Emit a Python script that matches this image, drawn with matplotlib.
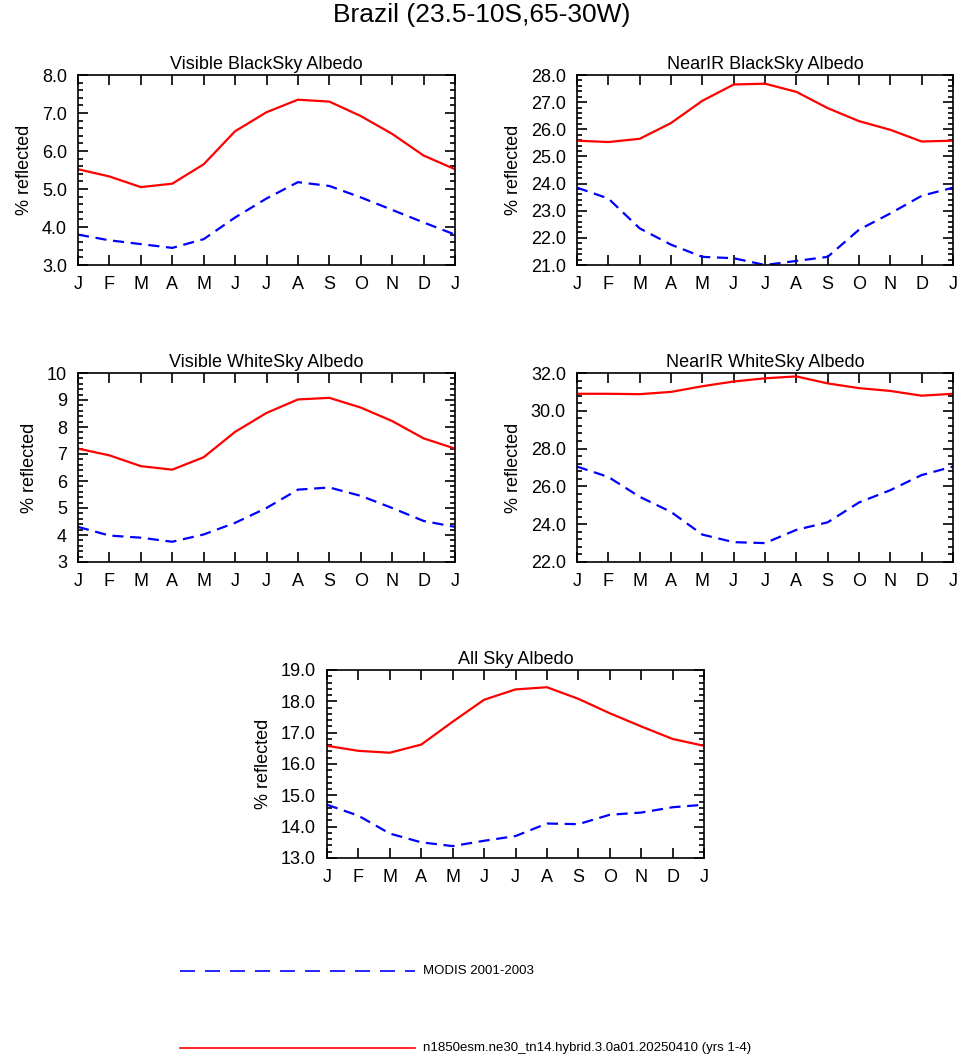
import numpy as np
import matplotlib
matplotlib.use('Agg')
import matplotlib.pyplot as plt
from matplotlib.ticker import AutoMinorLocator, FormatStrFormatter
from matplotlib.lines import Line2D

plt.rcParams['font.family'] = ['Liberation Sans', 'DejaVu Sans']

months = ['J', 'F', 'M', 'A', 'M', 'J', 'J', 'A', 'S', 'O', 'N', 'D', 'J']

vis_black_model = [5.52, 5.33, 5.05, 5.14, 5.65, 6.52, 7.02, 7.35, 7.30, 6.92, 6.45, 5.88, 5.52]
vis_black_modis = [3.80, 3.65, 3.55, 3.45, 3.68, 4.25, 4.75, 5.18, 5.08, 4.78, 4.45, 4.12, 3.80]
nir_black_model = [25.58, 25.53, 25.65, 26.23, 27.05, 27.65, 27.68, 27.38, 26.78, 26.30, 25.98, 25.55, 25.58]
nir_black_modis = [23.85, 23.45, 22.35, 21.75, 21.30, 21.25, 21.00, 21.15, 21.30, 22.30, 22.90, 23.55, 23.85]
vis_white_model = [7.2, 6.95, 6.55, 6.42, 6.88, 7.82, 8.52, 9.02, 9.08, 8.72, 8.22, 7.58, 7.2]
vis_white_modis = [4.3, 3.98, 3.9, 3.75, 4.02, 4.45, 5.0, 5.68, 5.76, 5.45, 5.0, 4.52, 4.3]
nir_white_model = [30.9, 30.9, 30.88, 31.0, 31.3, 31.55, 31.72, 31.82, 31.45, 31.2, 31.05, 30.8, 30.9]
nir_white_modis = [27.05, 26.5, 25.45, 24.65, 23.45, 23.05, 23.0, 23.7, 24.1, 25.15, 25.8, 26.6, 27.05]
allsky_model = [16.58, 16.42, 16.36, 16.62, 17.35, 18.05, 18.38, 18.45, 18.08, 17.62, 17.2, 16.8, 16.58]
allsky_modis = [14.7, 14.35, 13.78, 13.5, 13.38, 13.55, 13.7, 14.1, 14.08, 14.38, 14.45, 14.62, 14.7]

W, H = 964, 1056
fig = plt.figure(figsize=(W / 100, H / 100), dpi=100)

def px(x0, y0, x1, y1):
    return [x0 / W, 1 - y1 / H, (x1 - x0) / W, (y1 - y0) / H]

panels = [
    (px(78, 75, 455, 265), 'Visible BlackSky Albedo', vis_black_model, vis_black_modis, (3, 8), 1, '%.1f'),
    (px(577, 75, 953, 265), 'NearIR BlackSky Albedo', nir_black_model, nir_black_modis, (21, 28), 1, '%.1f'),
    (px(78, 373, 455, 562), 'Visible WhiteSky Albedo', vis_white_model, vis_white_modis, (3, 10), 1, '%d'),
    (px(577, 373, 953, 562), 'NearIR WhiteSky Albedo', nir_white_model, nir_white_modis, (22, 32), 2, '%.1f'),
    (px(327, 670, 704, 858), 'All Sky Albedo', allsky_model, allsky_modis, (13, 19), 1, '%.1f'),
]

x = np.arange(13)
for rect, title, model, modis, ylim, step, fmt in panels:
    ax = fig.add_axes(rect)
    ax.plot(x, model, color='red', lw=1.6)
    ax.plot(x, modis, color='blue', lw=1.6, ls=(0, (5, 3)))
    ax.set_xlim(0, 12)
    ax.set_ylim(*ylim)
    ax.set_xticks(x)
    ax.set_xticklabels(months)
    ax.set_yticks(np.arange(ylim[0], ylim[1] + 0.01, step))
    ax.yaxis.set_major_formatter(FormatStrFormatter(fmt))
    ax.yaxis.set_minor_locator(AutoMinorLocator(5))
    ax.tick_params(which='both', direction='in', top=True, right=True, labelsize=13, width=1.2)
    ax.tick_params(which='major', length=7, pad=8)
    ax.tick_params(which='minor', length=3.5)
    for s in ax.spines.values():
        s.set_linewidth(1.2)
    ax.set_title(title, fontsize=13, pad=4)
    ax.set_ylabel('% reflected', fontsize=13, labelpad=6)

fig.text(0.5, 1 - 15 / H, 'Brazil (23.5-10S,65-30W)', ha='center', va='center', fontsize=19)

fig.add_artist(Line2D([180 / W, 415 / W], [1 - 971 / H] * 2, color='blue', lw=1.2, ls=(0, (9, 6))))
fig.text(423 / W, 1 - 971 / H, 'MODIS 2001-2003', fontsize=9.5, va='center')
fig.add_artist(Line2D([180 / W, 415 / W], [1 - 1048 / H] * 2, color='red', lw=1.2))
fig.text(423 / W, 1 - 1048 / H, 'n1850esm.ne30_tn14.hybrid.3.0a01.20250410 (yrs 1-4)', fontsize=9.5, va='center')

fig.savefig('out.png', dpi=100)
